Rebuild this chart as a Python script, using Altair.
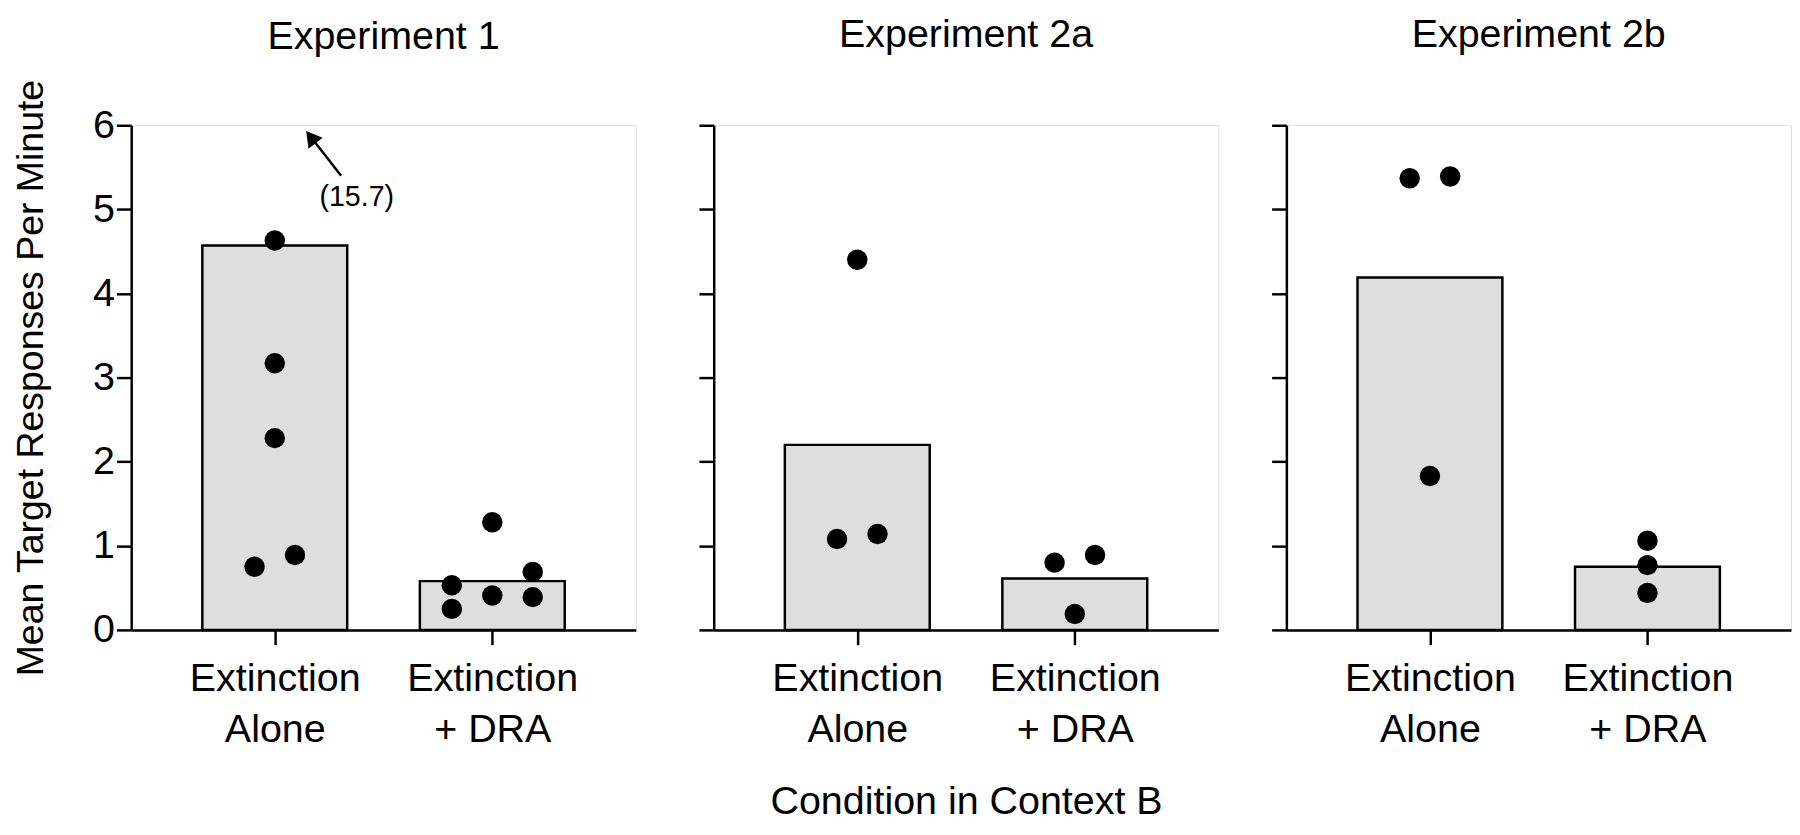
import altair as alt
import pandas as pd

FONT = "Liberation Sans"

# ---------------- data ----------------
experiments = ["Experiment 1", "Experiment 2a", "Experiment 2b"]
conditions = ["Extinction Alone", "Extinction + DRA"]

# bar heights (group means; Experiment 1 "alone" mean includes the 15.7 off-scale subject)
exp1_means = [4.57, 0.58]
exp2a_means = [2.20, 0.61]
exp2b_means = [4.19, 0.75]

# individual subjects (value, and dodge column used to keep dots from overlapping)
exp1_alone = [4.63, 3.17, 2.28, 0.75, 0.89]
exp1_alone_col = [0, 0, 0, -1, 1]
exp1_dra = [1.28, 0.69, 0.53, 0.41, 0.39, 0.25]
exp1_dra_col = [0, 2, -2, 0, 2, -2]

exp2a_alone = [4.40, 1.08, 1.14]
exp2a_alone_col = [0, -1, 1]
exp2a_dra = [0.80, 0.89, 0.19]
exp2a_dra_col = [-1, 1, 0]

exp2b_alone = [5.37, 5.39, 1.83]
exp2b_alone_col = [-1, 1, 0]
exp2b_dra = [1.06, 0.77, 0.44]
exp2b_dra_col = [0, 0, 0]

exp1_offscale_label = ["(15.7)"]
y_ticks = [0, 1, 2, 3, 4, 5, 6]

# ---------------- chart ----------------
W, H = 512, 512
LINE = 2.5
X_DOMAIN = [-0.66, 1.66]   # categories sit at 0 and 1
BAR_HALF = 0.333           # half bar width, in category-step units
DODGE = 0.093              # one dodge column, in category-step units

label_expr = ("datum.value == 0 ? ['Extinction', 'Alone'] "
              ": ['Extinction', '+ DRA']")

AXIS_STYLE = dict(
    grid=False, domainColor="black", tickColor="black", labelColor="black",
    titleColor="black", labelFont=FONT, titleFont=FONT,
    tickSize=15, tickWidth=LINE, domainWidth=LINE, labelFlush=False, labelOverlap=False,
)


def panel(title, means, alone, alone_col, dra, dra_col, first=False, middle=False,
          annotate=False, title_offset=70):
    bars_df = pd.DataFrame({"cond": conditions, "ci": [0, 1], "mean": means})
    pts_df = pd.DataFrame({
        "cond": [conditions[0]] * len(alone) + [conditions[1]] * len(dra),
        "ci": [0] * len(alone) + [1] * len(dra),
        "value": alone + dra,
        "col": alone_col + dra_col,
    })

    xscale = alt.Scale(domain=X_DOMAIN, nice=False, zero=False)
    yscale = alt.Scale(domain=[0, 6], nice=False, zero=True)

    xaxis = alt.Axis(
        title="Condition in Context B" if middle else None,
        values=[0, 1], labelExpr=label_expr, labelAngle=0, labelFontSize=40,
        labelLineHeight=52, labelPadding=14,
        titleFontSize=40, titlePadding=33, titleFontWeight="normal",
        **AXIS_STYLE,
    )
    yaxis = alt.Axis(
        title="Mean Target Responses Per Minute" if first else None,
        values=y_ticks, labels=first, labelFontSize=40, labelPadding=2,
        titleFontSize=38, titlePadding=43, titleFontWeight="normal",
        **AXIS_STYLE,
    )

    bars = alt.Chart(bars_df).transform_calculate(
        x0=f"datum.ci - {BAR_HALF}", x1=f"datum.ci + {BAR_HALF}"
    ).mark_rect(
        fill="#dedede", stroke="black", strokeWidth=LINE
    ).encode(
        x=alt.X("x0:Q", scale=xscale, axis=xaxis),
        x2="x1:Q",
        y=alt.Y("mean:Q", scale=yscale, axis=yaxis),
        y2=alt.datum(0),
    )

    dots = alt.Chart(pts_df).transform_calculate(
        xp=f"datum.ci + datum.col * {DODGE}"
    ).mark_circle(size=430, color="black", opacity=1).encode(
        x=alt.X("xp:Q", scale=xscale, axis=xaxis),
        y=alt.Y("value:Q", scale=yscale, axis=yaxis),
    )

    layers = [bars, dots]

    if annotate:
        arrow_df = pd.DataFrame({"x": [0.305], "y": [5.40], "x2": [0.166], "y2": [5.86]})
        head_df = pd.DataFrame({"x": [0.166], "y": [5.86]})
        text_df = pd.DataFrame({"x": [0.377], "y": [5.15], "t": exp1_offscale_label})
        shaft = alt.Chart(arrow_df).mark_rule(color="black", strokeWidth=LINE).encode(
            x=alt.X("x:Q", scale=xscale, axis=xaxis), x2="x2",
            y=alt.Y("y:Q", scale=yscale, axis=yaxis), y2="y2",
        )
        head = alt.Chart(head_df).mark_point(
            shape="triangle-up", filled=True, size=330, angle=322.5, color="black", opacity=1
        ).encode(
            x=alt.X("x:Q", scale=xscale, axis=xaxis),
            y=alt.Y("y:Q", scale=yscale, axis=yaxis),
        )
        txt = alt.Chart(text_df).mark_text(
            font=FONT, fontSize=29, align="center", baseline="middle", color="black"
        ).encode(
            x=alt.X("x:Q", scale=xscale, axis=xaxis),
            y=alt.Y("y:Q", scale=yscale, axis=yaxis),
            text="t:N",
        )
        layers += [shaft, head, txt]

    return alt.layer(*layers).properties(
        width=W, height=H,
        title=alt.TitleParams(text=title, fontSize=40, font=FONT, fontWeight="normal",
                              anchor="middle", frame="group", offset=title_offset,
                              color="black"),
    )


p1 = panel(experiments[0], exp1_means, exp1_alone, exp1_alone_col, exp1_dra, exp1_dra_col,
           first=True, annotate=True, title_offset=22)
p2 = panel(experiments[1], exp2a_means, exp2a_alone, exp2a_alone_col, exp2a_dra, exp2a_dra_col,
           middle=True)
p3 = panel(experiments[2], exp2b_means, exp2b_alone, exp2b_alone_col, exp2b_dra, exp2b_dra_col)

right_pair = alt.hconcat(p2, p3, spacing=51)

chart = alt.hconcat(p1, right_pair, spacing=61).properties(
    padding={"left": 4, "top": 1, "right": 0, "bottom": 0}
).configure_view(strokeWidth=0).configure(background="white")

chart.save("out.html", embed_options={"renderer": "svg", "actions": False})
